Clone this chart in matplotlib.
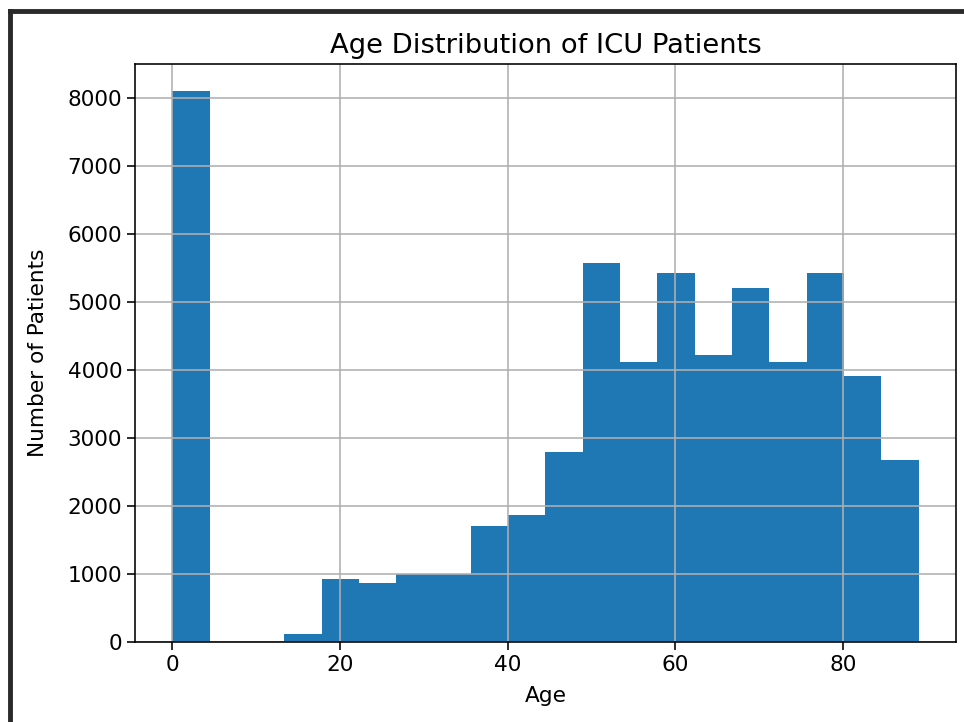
import numpy as np
import matplotlib
matplotlib.use("Agg")
import matplotlib.pyplot as plt
from matplotlib.lines import Line2D

# ages 0..89 split into 20 equal bins
age_min = 0
age_max = 89
n_bins = 20
counts = [8100, 0, 0, 122, 923, 864, 995, 995, 1712, 1870,
          2792, 5575, 4125, 5435, 4220, 5205, 4125, 5435, 3920, 2680]

edges = np.linspace(age_min, age_max, n_bins + 1)

s = 1.45   # line scale relative to default figure
fs = 1.56  # font scale
fig = plt.figure(figsize=(9.64, 7.22), dpi=100)
ax = fig.add_axes([0.140, 0.1108, 0.8517, 0.8006])

ax.hist(edges[:-1], bins=edges, weights=counts, color="#1f77b4")
ax.grid(True, linewidth=0.8 * s)

ax.set_title("Age Distribution of ICU Patients", fontsize=12 * 1.64, pad=8)
ax.set_xlabel("Age", fontsize=10 * fs, labelpad=8)
ax.set_ylabel("Number of Patients", fontsize=10 * fs, labelpad=14)
ax.tick_params(labelsize=10 * fs, width=0.8 * s, length=3.5 * 1.6)
for sp in ax.spines.values():
    sp.set_linewidth(0.8 * s)

# dark screenshot border on top and left
fig.add_artist(Line2D([0.0104, 1.0], [0.9848, 0.9848], color="#2a2a2a", linewidth=3.5,
                      transform=fig.transFigure))
fig.add_artist(Line2D([0.0104, 0.0104], [0.0, 0.9848], color="#2a2a2a", linewidth=3.5,
                      transform=fig.transFigure))

fig.savefig("out.png", dpi=100)
